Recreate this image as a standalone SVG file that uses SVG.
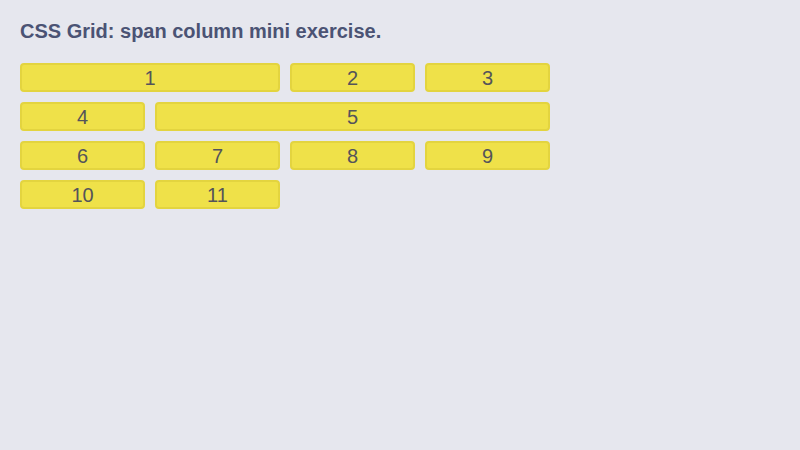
<svg xmlns="http://www.w3.org/2000/svg" width="800" height="450" viewBox="0 0 800 450">
<style>
.bg{fill:#e6e7ee}
.title{font-family:"Liberation Sans",Arial,sans-serif;font-size:20px;font-weight:bold;fill:#4b5374}
.cell rect{fill:#efe149;stroke:#e3d43f;stroke-width:2}
.cell text{font-family:"Liberation Sans",Arial,sans-serif;font-size:20px;fill:#54545a;text-anchor:middle}
</style>
<rect class="bg" x="0" y="0" width="800" height="450"/>
<text class="title" x="20" y="38">CSS Grid: span column mini exercise.</text>
<g id="item1" class="cell"><rect x="21" y="64" width="258" height="27" rx="3"/><text x="150" y="84.5">1</text></g>
<g id="item2" class="cell"><rect x="291" y="64" width="123" height="27" rx="3"/><text x="352.5" y="84.5">2</text></g>
<g id="item3" class="cell"><rect x="426" y="64" width="123" height="27" rx="3"/><text x="487.5" y="84.5">3</text></g>
<g id="item4" class="cell"><rect x="21" y="103" width="123" height="27" rx="3"/><text x="82.5" y="123.5">4</text></g>
<g id="item5" class="cell"><rect x="156" y="103" width="393" height="27" rx="3"/><text x="352.5" y="123.5">5</text></g>
<g id="item6" class="cell"><rect x="21" y="142" width="123" height="27" rx="3"/><text x="82.5" y="162.5">6</text></g>
<g id="item7" class="cell"><rect x="156" y="142" width="123" height="27" rx="3"/><text x="217.5" y="162.5">7</text></g>
<g id="item8" class="cell"><rect x="291" y="142" width="123" height="27" rx="3"/><text x="352.5" y="162.5">8</text></g>
<g id="item9" class="cell"><rect x="426" y="142" width="123" height="27" rx="3"/><text x="487.5" y="162.5">9</text></g>
<g id="item10" class="cell"><rect x="21" y="181" width="123" height="27" rx="3"/><text x="82.5" y="201.5">10</text></g>
<g id="item11" class="cell"><rect x="156" y="181" width="123" height="27" rx="3"/><text x="217.5" y="201.5">11</text></g>
</svg>
